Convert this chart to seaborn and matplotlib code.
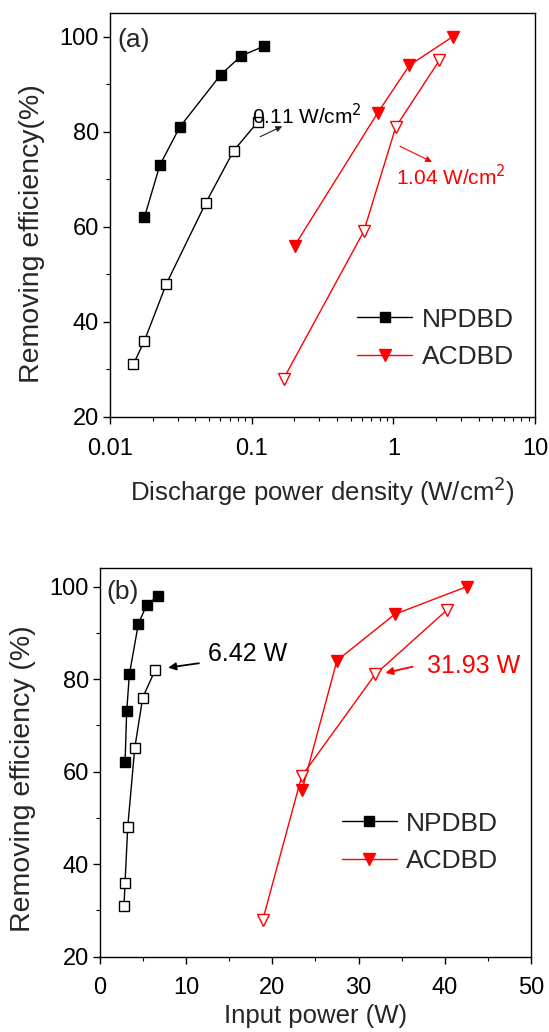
import matplotlib
matplotlib.use("Agg")
import matplotlib.pyplot as plt
from matplotlib.lines import Line2D
from matplotlib.ticker import MultipleLocator, FixedLocator, LogLocator, NullFormatter
import numpy as np
import pandas as pd
import seaborn as sns

# ---- data: removal efficiency vs discharge power density (panel a) ----
np_density_filled = [0.0175, 0.0225, 0.0311, 0.0605, 0.0845, 0.122]
np_eff_filled = [62, 73, 81, 92, 96, 98]
np_density_open = [0.0146, 0.0175, 0.0250, 0.0474, 0.0746, 0.11]
np_eff_open = [31, 36, 48, 65, 76, 82]
ac_density_filled = [0.201, 0.776, 1.30, 2.62]
ac_eff_filled = [56, 84, 94, 100]
ac_density_open = [0.168, 0.618, 1.04, 2.11]
ac_eff_open = [28, 59, 81, 95]

# ---- data: removal efficiency vs input power (panel b) ----
np_power_filled = [2.91, 3.10, 3.41, 4.46, 5.43, 6.71]
np_power_open = [2.79, 2.91, 3.22, 4.03, 4.96, 6.42]
ac_power_filled = [23.45, 27.5, 34.2, 42.6]
ac_power_open = [18.9, 23.4, 31.93, 40.3]

sns.set_theme(style="ticks")
plt.rcParams["font.family"] = ["Liberation Sans", "DejaVu Sans"]
plt.rcParams["axes.linewidth"] = 1.0

BLACK = "#000000"
RED = "#ff0000"
TICK_FS = 17
LABEL_FS = 18.5
YLABEL_FS = 20.5

fig = plt.figure(figsize=(5.49, 10.32), dpi=100)
ax_a = fig.add_axes([0.2004, 0.5962, 0.7741, 0.3912])
ax_b = fig.add_axes([0.1821, 0.0730, 0.7849, 0.3766])


def draw(ax, x, y, color, marker, filled, ms):
    df = pd.DataFrame({"x": x, "y": y})
    sns.lineplot(data=df, x="x", y="y", ax=ax, sort=False, estimator=None,
                 color=color, lw=1.0, marker=marker, ms=ms,
                 mfc=color if filled else "white", mec=color, mew=1.0,
                 legend=False)


# panel (a)
draw(ax_a, np_density_filled, np_eff_filled, BLACK, "s", True, 7)
draw(ax_a, np_density_open, np_eff_open, BLACK, "s", False, 7)
draw(ax_a, ac_density_filled, ac_eff_filled, RED, "v", True, 8.5)
draw(ax_a, ac_density_open, ac_eff_open, RED, "v", False, 8.5)

ax_a.set_xscale("log")
ax_a.set_xlim(0.01, 10)
ax_a.set_ylim(20, 105)
ax_a.xaxis.set_major_locator(FixedLocator([0.01, 0.1, 1, 10]))
ax_a.set_xticklabels(["0.01", "0.1", "1", "10"])
ax_a.xaxis.set_minor_locator(LogLocator(base=10, subs=np.arange(2, 10)))
ax_a.xaxis.set_minor_formatter(NullFormatter())
ax_a.yaxis.set_major_locator(FixedLocator([20, 40, 60, 80, 100]))
ax_a.yaxis.set_minor_locator(FixedLocator([30, 50, 70, 90]))
ax_a.set_xlabel("Discharge power density (W/cm$^2$)", fontsize=LABEL_FS,
                labelpad=11)
ax_a.set_ylabel("Removing efficiency(%)", fontsize=YLABEL_FS)
ax_a.yaxis.set_label_coords(-0.152, 0.453)
ax_a.text(0.017, 0.933, "(a)", transform=ax_a.transAxes, fontsize=19,
          va="center", ha="left")

ax_a.annotate("", xy=(0.171, 81.4), xytext=(0.110, 78.7),
              arrowprops=dict(arrowstyle="-|>", color="#222222", lw=0.8,
                              mutation_scale=9))
ax_a.text(0.244, 83.5, "0.11 W/cm$^2$", fontsize=15, ha="center",
          va="center", color=BLACK)
ax_a.annotate("", xy=(1.95, 73.4), xytext=(1.07, 77.2),
              arrowprops=dict(arrowstyle="-|>", color=RED, lw=0.8,
                              mutation_scale=9))
ax_a.text(2.56, 70.5, "1.04 W/cm$^2$", fontsize=15, ha="center",
          va="center", color=RED)

# panel (b)
draw(ax_b, np_power_filled, np_eff_filled, BLACK, "s", True, 7)
draw(ax_b, np_power_open, np_eff_open, BLACK, "s", False, 7)
draw(ax_b, ac_power_filled, ac_eff_filled, RED, "v", True, 8.5)
draw(ax_b, ac_power_open, ac_eff_open, RED, "v", False, 8.5)

ax_b.set_xlim(0, 50)
ax_b.set_ylim(20, 104)
ax_b.xaxis.set_major_locator(MultipleLocator(10))
ax_b.xaxis.set_minor_locator(MultipleLocator(5))
ax_b.yaxis.set_major_locator(FixedLocator([20, 40, 60, 80, 100]))
ax_b.yaxis.set_minor_locator(FixedLocator([30, 50, 70, 90]))
ax_b.set_xlabel("Input power (W)", fontsize=LABEL_FS, labelpad=3)
ax_b.set_ylabel("Removing efficiency (%)", fontsize=YLABEL_FS)
ax_b.yaxis.set_label_coords(-0.148, 0.458)
ax_b.text(0.014, 0.938, "(b)", transform=ax_b.transAxes, fontsize=19,
          va="center", ha="left")

ax_b.annotate("", xy=(7.6, 82.4), xytext=(11.8, 83.5),
              arrowprops=dict(arrowstyle="-|>", color=BLACK, lw=1.3,
                              mutation_scale=11))
ax_b.text(17.1, 85.4, "6.42 W", fontsize=18, ha="center", va="center",
          color=BLACK)
ax_b.annotate("", xy=(32.8, 81.2), xytext=(36.6, 82.8),
              arrowprops=dict(arrowstyle="-|>", color=RED, lw=1.3,
                              mutation_scale=11))
ax_b.text(43.3, 82.8, "31.93 W", fontsize=18, ha="center", va="center",
          color=RED)

legend_anchor = {ax_a: (0.581, 0.194), ax_b: (0.561, 0.294)}
for ax in (ax_a, ax_b):
    ax.tick_params(axis="both", which="major", direction="out", length=5,
                   width=1.0, labelsize=TICK_FS, pad=3, colors=BLACK)
    ax.tick_params(axis="x", which="major", pad=10)
    ax.tick_params(axis="both", which="minor", direction="out", length=3,
                   width=0.8, colors=BLACK)
    for s in ax.spines.values():
        s.set_visible(True)
        s.set_color(BLACK)
        s.set_linewidth(1.0)
    handles = [
        Line2D([], [], color=BLACK, lw=1.0, marker="s", ms=7, mfc=BLACK,
               mec=BLACK),
        Line2D([], [], color=RED, lw=1.0, marker="v", ms=8.5, mfc=RED,
               mec=RED),
    ]
    ax.legend(handles, ["NPDBD", "ACDBD"], loc="center left",
              bbox_to_anchor=legend_anchor[ax], frameon=False, fontsize=19,
              handlelength=2.1, handletextpad=0.35, labelspacing=0.52,
              numpoints=1, borderpad=0, borderaxespad=0)

fig.savefig("out.png", dpi=100, facecolor="white")
